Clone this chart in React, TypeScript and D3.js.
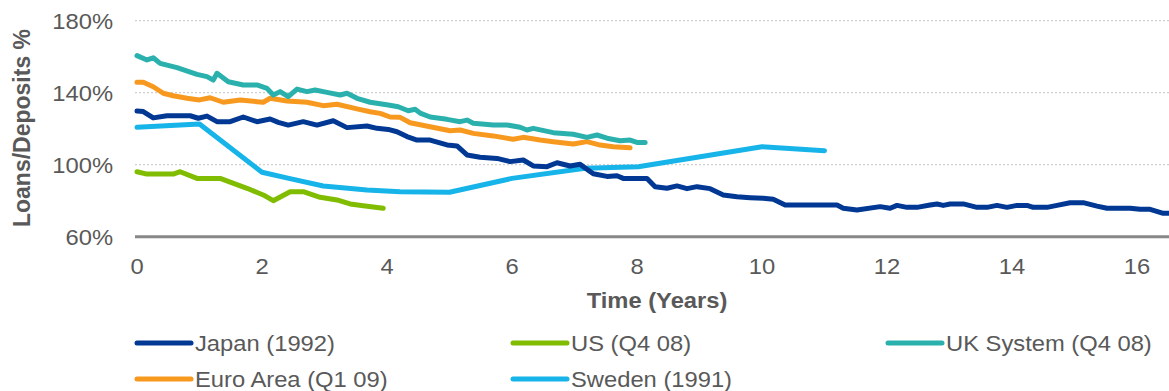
import React from "react";
import * as d3 from "d3";

const yTicks = [60, 100, 140, 180];
const xTicks = [0, 2, 4, 6, 8, 10, 12, 14, 16];

const japan: [number, number][] = [
  [0, 129.8], [0.1, 129.5], [0.26, 126], [0.48, 127.2], [0.85, 127.2], [0.98, 125.8], [1.12, 127], [1.28, 123.9],
  [1.49, 123.9], [1.7, 126.5], [1.92, 123.9], [2.13, 125.4], [2.26, 123.5], [2.42, 122], [2.66, 123.9], [2.88, 122],
  [3.14, 124.4], [3.36, 120.6], [3.68, 121.5], [3.84, 120.2], [4.02, 119.6], [4.16, 118.3], [4.32, 115.6], [4.48, 113.7],
  [4.69, 113.7], [4.96, 111], [5.12, 110.4], [5.28, 105.4], [5.49, 104.1], [5.76, 103.5], [5.97, 101.7], [6.18, 102.6],
  [6.34, 99.3], [6.56, 98.9], [6.72, 101.1], [6.93, 99.3], [7.09, 100.2], [7.3, 95.0], [7.52, 93.5], [7.68, 93.9],
  [7.78, 92.4], [8.16, 92.4], [8.29, 87.8], [8.48, 86.9], [8.64, 88.2], [8.8, 86.7], [8.96, 87.8], [9.17, 86.7],
  [9.38, 83.2], [9.6, 82.2], [9.81, 81.7], [10.02, 81.3], [10.18, 80.8], [10.37, 77.6], [11.2, 77.6], [11.3, 75.8],
  [11.52, 74.8], [11.89, 76.7], [12.05, 75.8], [12.16, 77.4], [12.32, 76.3], [12.48, 76.3], [12.69, 77.6], [12.8, 78.2],
  [12.9, 77.4], [13.01, 78.2], [13.22, 78.2], [13.44, 76.3], [13.6, 76.3], [13.76, 77.4], [13.92, 76.3], [14.08, 77.4],
  [14.24, 77.4], [14.34, 76.3], [14.56, 76.3], [14.72, 77.4], [14.93, 78.9], [15.14, 78.9], [15.36, 77], [15.52, 75.8],
  [15.89, 75.8], [16.05, 75.2], [16.21, 75.2], [16.42, 73], [16.5, 73],
];

const us: [number, number][] = [
  [0, 96.1], [0.16, 94.8], [0.58, 94.8], [0.69, 96.1], [0.96, 92.4], [1.33, 92.4], [1.76, 86.9], [2.02, 83.2],
  [2.18, 80], [2.45, 85], [2.66, 85], [2.93, 81.9], [3.2, 80.4], [3.41, 78.2], [3.62, 77.2], [3.94, 75.8],
];

const uk: [number, number][] = [
  [0, 160.6], [0.16, 158.2], [0.26, 159.4], [0.37, 156.3], [0.64, 153.9], [0.96, 150.2], [1.12, 148.9], [1.22, 147],
  [1.28, 150.8], [1.46, 146.1], [1.7, 144.3], [1.92, 144.3], [2.08, 142.4], [2.18, 138.7], [2.29, 140.6], [2.42, 137.8],
  [2.56, 142], [2.72, 140.6], [2.85, 141.5], [3.04, 140.2], [3.25, 138.7], [3.36, 139.7], [3.52, 136.9], [3.73, 134.7],
  [4.02, 133.2], [4.18, 132.2], [4.34, 130], [4.45, 130.8], [4.54, 128.5], [4.69, 126.5], [4.96, 125.2], [5.17, 123.9],
  [5.28, 124.8], [5.38, 123], [5.7, 122.1], [5.92, 122.1], [6.13, 120.8], [6.24, 119.3], [6.34, 120.2], [6.66, 117.8],
  [6.98, 116.9], [7.2, 115.2], [7.36, 116.5], [7.52, 114.7], [7.73, 113.3], [7.89, 113.7], [8.0, 112.4], [8.13, 112.4],
];

const euro: [number, number][] = [
  [0, 145.8], [0.1, 145.8], [0.26, 143.3], [0.42, 139.7], [0.58, 138.3], [0.8, 136.9], [1.0, 136], [1.17, 137.2],
  [1.38, 134.7], [1.65, 136], [1.92, 135], [2.02, 134.7], [2.13, 136.9], [2.4, 135.4], [2.72, 134.7], [2.98, 132.8],
  [3.2, 133.6], [3.52, 131], [3.73, 129.4], [3.89, 128.5], [4.05, 126.5], [4.21, 126.3], [4.37, 123.3], [4.69, 121.1],
  [5.01, 118.9], [5.17, 119.3], [5.38, 117.4], [5.7, 116], [6.02, 114.1], [6.18, 115.2], [6.45, 113.7], [6.66, 112.8],
  [6.98, 111.5], [7.2, 112.8], [7.41, 110.9], [7.62, 110], [7.89, 109.4],
];

const sweden: [number, number][] = [
  [0, 120.8], [1.0, 122.6], [2.0, 95.8], [2.43, 92.4], [2.98, 88.2], [3.68, 86], [4.21, 85], [5.0, 84.7],
  [6.0, 92.4], [7.17, 98], [8.02, 98.9], [10.0, 110], [11.0, 107.8],
];

const seriesNames = ["Japan (1992)", "US (Q4 08)", "UK System (Q4 08)", "Euro Area (Q1 09)", "Sweden (1991)"];
const seriesColors = ["#003893", "#80bc00", "#2bb1ad", "#f7991f", "#16b4e9"];
const seriesData = [japan, us, uk, euro, sweden];
// draw order: back to front
const drawOrder = [4, 0, 1, 3, 2];

const W = 1169;
const H = 391;
const TEXT = "#595959";
const FONT = "Liberation Sans, Arial, sans-serif";
const SX = 1.08;

function T(props: {
  x: number;
  y: number;
  anchor?: "start" | "middle" | "end";
  size?: number;
  bold?: boolean;
  children: React.ReactNode;
}) {
  const { x, y, anchor = "start", size = 22, bold = false, children } = props;
  return (
    <text
      transform={`translate(${x},${y}) scale(${SX},1)`}
      dy="0.36em"
      textAnchor={anchor}
      fontSize={size}
      fontWeight={bold ? "bold" : "normal"}
      fill={TEXT}
    >
      {children}
    </text>
  );
}

export default function App() {
  const x = d3.scaleLinear().domain([0, 16.5]).range([137, 137 + 62.5 * 16.5]);
  const y = d3.scaleLinear().domain([60, 180]).range([236.7, 20.7]);
  const line = d3
    .line<[number, number]>()
    .x((d) => x(d[0]))
    .y((d) => y(d[1]));

  const legendPos = [
    { lx: 137, ly: 343 },
    { lx: 513, ly: 343 },
    { lx: 888, ly: 343 },
    { lx: 137, ly: 379 },
    { lx: 513, ly: 379 },
  ];

  return (
    <svg
      width={W}
      height={H}
      style={{ position: "absolute", left: 0, top: 0, background: "#fff" }}
      fontFamily={FONT}
    >
      {yTicks.filter((t) => t !== 60).map((t) => (
        <line key={"g" + t} x1={135} x2={W} y1={y(t)} y2={y(t)} stroke="#c4c4c4" strokeWidth={1} strokeDasharray="2,2" />
      ))}
      <line x1={135} x2={W} y1={y(60)} y2={y(60)} stroke="#878787" strokeWidth={3} />
      {yTicks.map((t) => (
        <T key={"yt" + t} x={113} y={y(t)} anchor="end">
          {t}%
        </T>
      ))}
      {xTicks.map((t) => (
        <T key={"xt" + t} x={x(t)} y={266} anchor="middle">
          {t}
        </T>
      ))}
      <T x={657} y={300} anchor="middle" bold>
        Time (Years)
      </T>
      <text
        transform={`translate(22,128) rotate(-90)`}
        dy="0.36em"
        textAnchor="middle"
        fontSize={23}
        fontWeight="bold"
        fill={TEXT}
      >
        Loans/Deposits %
      </text>
      {drawOrder.map((i) => (
        <path
          key={"s" + i}
          d={line(seriesData[i]) || ""}
          fill="none"
          stroke={seriesColors[i]}
          strokeWidth={5}
          strokeLinejoin="round"
          strokeLinecap="round"
        />
      ))}
      {seriesNames.map((n, i) => (
        <g key={"lg" + i}>
          <line
            x1={legendPos[i].lx}
            x2={legendPos[i].lx + 54}
            y1={legendPos[i].ly}
            y2={legendPos[i].ly}
            stroke={seriesColors[i]}
            strokeWidth={5}
            strokeLinecap="round"
          />
          <T x={legendPos[i].lx + 58} y={legendPos[i].ly}>
            {n}
          </T>
        </g>
      ))}
    </svg>
  );
}
